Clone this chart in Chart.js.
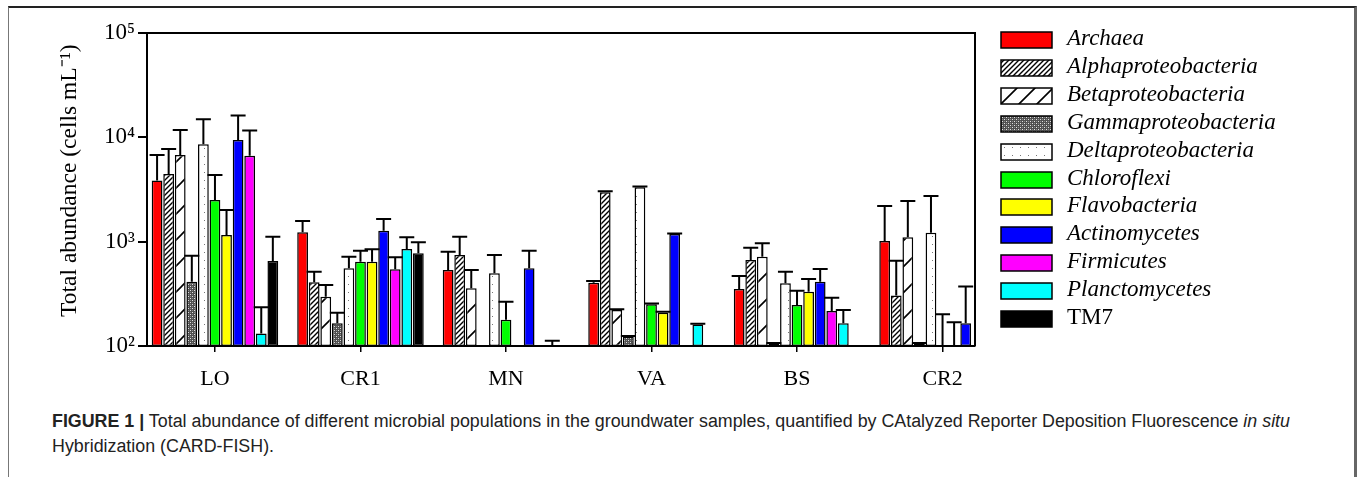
<!DOCTYPE html>
<html>
<head>
<meta charset="utf-8">
<script src="https://cdn.jsdelivr.net/npm/chart.js@4.4.1/dist/chart.umd.min.js"></script>
<style>
  html, body { margin: 0; padding: 0; background: #fff; }
  #wrap { position: relative; width: 1359px; height: 477px; overflow: hidden; }
  #frame { position: absolute; left: 8px; top: 6px; width: 1345px; height: 500px; border-top: 2px solid #222; border-left: 1px solid #777; border-right: 3px solid #666; }
  #chartBox { position: absolute; left: 0; top: 0; width: 1359px; height: 400px; }
  #legend { position: absolute; left: 1000px; top: 31px; }
  .item { position: absolute; left: 0; height: 17px; white-space: nowrap; }
  .item canvas { position: absolute; left: 0; top: 0; }
  .item span { position: absolute; left: 67px; top: -7px; font-family: 'Liberation Serif', serif; font-style: italic; font-size: 23px; line-height: 28px; color: #000; }
  #caption { position: absolute; left: 52px; top: 409px; font-family: 'Liberation Sans', sans-serif; font-size: 18px; line-height: 25px; color: #222; white-space: nowrap; transform-origin: 0 0; }
</style>
</head>
<body>
<div id="wrap">
  <div id="frame"></div>
  <div id="chartBox"><canvas id="c"></canvas></div>
  <div id="legend"></div>
  <div id="caption">
    <div id="cap1" style="display:inline-block"><b>FIGURE 1 |</b> Total abundance of different microbial populations in the groundwater samples, quantified by CAtalyzed Reporter Deposition Fluorescence <i>in situ</i></div>
    <div>Hybridization (CARD-FISH).</div>
  </div>
</div>
<script>
// ---- data (cells mL-1); 0 = no bar ----
const categories = ['LO', 'CR1', 'MN', 'VA', 'BS', 'CR2'];
const seriesNames = ['Archaea', 'Alphaproteobacteria', 'Betaproteobacteria', 'Gammaproteobacteria',
  'Deltaproteobacteria', 'Chloroflexi', 'Flavobacteria', 'Actinomycetes', 'Firmicutes', 'Planctomycetes', 'TM7'];

const archaea        = [3850, 1230, 535, 404, 352, 1016];
const archaeaErr     = [2930, 350, 267, 16, 117, 1184];
const alpha          = [4460, 408, 745, 2980, 668, 304];
const alphaErr       = [3290, 108, 372, 70, 208, 354];
const beta           = [6780, 297, 357, 221, 718, 1102];
const betaErr        = [4990, 88, 178, 4, 247, 1355];
const gamma          = [414, 165, 0, 123, 106, 106];
const gammaErr       = [320, 43, 0, 2, 1, 1];
const delta          = [8590, 556, 498, 3323, 399, 1219];
const deltaErr       = [6340, 162, 247, 57, 117, 1523];
const chloroflexi    = [2513, 643, 178, 251, 247, 101];
const chloroflexiErr = [1852, 177, 88, 4, 92, 100];
const flavobacteria  = [1159, 643, 0, 208, 332, 101];
const flavoErr       = [855, 202, 0, 5, 107, 68];
const actinomycetes  = [9440, 1275, 556, 1186, 414, 165];
const actinoErr      = [6710, 376, 264, 14, 133, 206];
const firmicutes     = [6670, 543, 0, 0, 217, 0];
const firmicutesErr  = [4930, 165, 0, 0, 73, 0];
const planctomycetes = [132, 851, 101, 161, 165, 0];
const planctoErr     = [103, 250, 11, 2, 56, 0];
const tm7            = [653, 774, 0, 0, 0, 0];
const tm7Err         = [464, 212, 0, 0, 0, 0];
const yTickValues    = [100, 1000, 10000, 100000];

const values = [archaea, alpha, beta, gamma, delta, chloroflexi, flavobacteria, actinomycetes, firmicutes, planctomycetes, tm7];
const errors = [archaeaErr, alphaErr, betaErr, gammaErr, deltaErr, chloroflexiErr, flavoErr, actinoErr, firmicutesErr, planctoErr, tm7Err];

// ---- fills ----
function makePattern(kind, period) {
  const c = document.createElement('canvas');
  const x = c.getContext('2d');
  if (kind === 'diag') {
    const p = period;
    c.width = p; c.height = p;
    x.fillStyle = '#fff'; x.fillRect(0, 0, p, p);
    x.strokeStyle = '#000'; x.lineWidth = p < 8 ? 1.4 : 1.6;
    x.beginPath();
    x.moveTo(-1, p + 1); x.lineTo(p + 1, -1);
    x.moveTo(-1, 1); x.lineTo(1, -1);
    x.moveTo(p - 1, p + 1); x.lineTo(p + 1, p - 1);
    x.stroke();
  } else if (kind === 'gamma') {
    c.width = 4; c.height = 4;
    x.fillStyle = '#505050'; x.fillRect(0, 0, 4, 4);
    x.fillStyle = '#e0e0e0';
    x.fillRect(0, 0, 1, 1); x.fillRect(2, 2, 1, 1);
    x.fillStyle = '#8a8a8a';
    x.fillRect(2, 0, 1, 1); x.fillRect(0, 2, 1, 1);
  } else if (kind === 'delta') {
    c.width = 8; c.height = 8;
    x.fillStyle = '#fff'; x.fillRect(0, 0, 8, 8);
    x.fillStyle = '#777';
    x.fillRect(4, 4, 1, 1);
  }
  return x.createPattern(c, 'repeat');
}
function fillFor(i, legend) {
  switch (i) {
    case 0: return '#ff0000';
    case 1: return makePattern('diag', 5);
    case 2: return makePattern('diag', legend ? 18 : 26);
    case 3: return makePattern('gamma');
    case 4: return makePattern('delta');
    case 5: return '#00ff00';
    case 6: return '#ffff00';
    case 7: return '#0000ff';
    case 8: return '#ff00ff';
    case 9: return '#00ffff';
    default: return '#000000';
  }
}

// ---- datasets (x = category index on a linear scale) ----
const datasets = seriesNames.map((name, i) => ({
  label: name,
  data: values[i].map((v, j) => ({ x: j, y: v > 0 ? v : null })),
  errs: errors[i],
  backgroundColor: fillFor(i, false),
  borderColor: '#000',
  borderWidth: 1.5,
  borderSkipped: false,
  categoryPercentage: 0.875,
  barPercentage: 0.93
}));

const supers = { '2': '\u00b2', '3': '\u00b3', '4': '\u2074', '5': '\u2075' };

const errorBars = {
  id: 'errorBars',
  afterDatasetsDraw(chart) {
    const { ctx, chartArea, scales } = chart;
    ctx.save();
    ctx.beginPath();
    ctx.rect(chartArea.left, chartArea.top - 2, chartArea.right - chartArea.left, chartArea.bottom - chartArea.top + 2);
    ctx.clip();
    ctx.strokeStyle = '#000';
    ctx.lineWidth = 2;
    chart.data.datasets.forEach((ds, i) => {
      const meta = chart.getDatasetMeta(i);
      meta.data.forEach((el, j) => {
        const v = ds.data[j].y;
        const e = ds.errs[j];
        if (v == null || !e) return;
        const yTop = scales.y.getPixelForValue(v + e);
        const yBase = Math.min(el.y, chartArea.bottom);
        ctx.beginPath();
        ctx.moveTo(el.x, yBase);
        ctx.lineTo(el.x, yTop);
        ctx.moveTo(el.x - 7.5, yTop);
        ctx.lineTo(el.x + 7.5, yTop);
        ctx.stroke();
      });
    });
    ctx.restore();
  },
  afterDraw(chart) {
    const { ctx, chartArea } = chart;
    ctx.save();
    ctx.strokeStyle = '#000';
    ctx.lineWidth = 2;
    ctx.beginPath();
    ctx.moveTo(chartArea.left, chartArea.top);
    ctx.lineTo(chartArea.right, chartArea.top);
    ctx.lineTo(chartArea.right, chartArea.bottom);
    ctx.stroke();
    ctx.restore();
  }
};

const serif = 'Liberation Serif, Times New Roman, serif';

new Chart(document.getElementById('c'), {
  type: 'bar',
  data: { datasets },
  options: {
    responsive: true,
    maintainAspectRatio: false,
    animation: false,
    layout: { padding: { left: 0, right: 384, top: 33, bottom: 0 } },
    plugins: { legend: { display: false }, tooltip: { enabled: false } },
    scales: {
      x: {
        type: 'linear',
        offset: false,
        min: -0.467,
        max: 5.223,
        afterBuildTicks: s => { s.ticks = categories.map((_, i) => ({ value: i })); },
        afterFit: s => { s.height = 54; },
        ticks: {
          callback: v => categories[v] ?? '',
          font: { family: serif, size: 22 },
          color: '#000',
          padding: 14,
          autoSkip: false,
          maxRotation: 0
        },
        grid: { offset: false, drawOnChartArea: false, color: '#000', tickLength: 6, lineWidth: 1.5 },
        border: { display: true, color: '#000', width: 2 }
      },
      y: {
        type: 'logarithmic',
        min: 100,
        max: 100000,
        afterBuildTicks: s => { s.ticks = yTickValues.map(v => ({ value: v })); },
        afterFit: s => { s.width = 147; },
        ticks: {
          callback: v => '10' + supers[String(Math.round(Math.log10(v)))],
          font: { family: serif, size: 23 },
          color: '#000',
          padding: 3
        },
        grid: { drawOnChartArea: false, color: '#000', tickLength: 9, lineWidth: 2 },
        border: { display: true, color: '#000', width: 2 },
        title: {
          display: true,
          text: '   Total abundance (cells mL\u207b\u00b9)',
          font: { family: serif, size: 23.5 },
          color: '#000',
          padding: { top: 56, bottom: 0 }
        }
      }
    }
  },
  plugins: [errorBars]
});

// ---- HTML legend ----
const legend = document.getElementById('legend');
seriesNames.forEach((name, i) => {
  const item = document.createElement('div');
  item.className = 'item';
  item.style.top = (i * 27.9) + 'px';
  const cv = document.createElement('canvas');
  cv.width = 53; cv.height = 18;
  const g = cv.getContext('2d');
  g.fillStyle = fillFor(i, true);
  g.fillRect(1, 1, 51, 16);
  g.strokeStyle = '#000'; g.lineWidth = 1.5;
  g.strokeRect(1, 1, 51, 16);
  item.appendChild(cv);
  const sp = document.createElement('span');
  sp.textContent = name;
  if (name === 'TM7') sp.style.fontStyle = 'normal';
  item.appendChild(sp);
  legend.appendChild(item);
});

// fit caption's first line to the width it has in the figure
const cap = document.getElementById('caption');
const w1 = document.getElementById('cap1').getBoundingClientRect().width;
cap.style.transform = 'scaleX(' + (1238 / w1).toFixed(4) + ')';
</script>
</body>
</html>
